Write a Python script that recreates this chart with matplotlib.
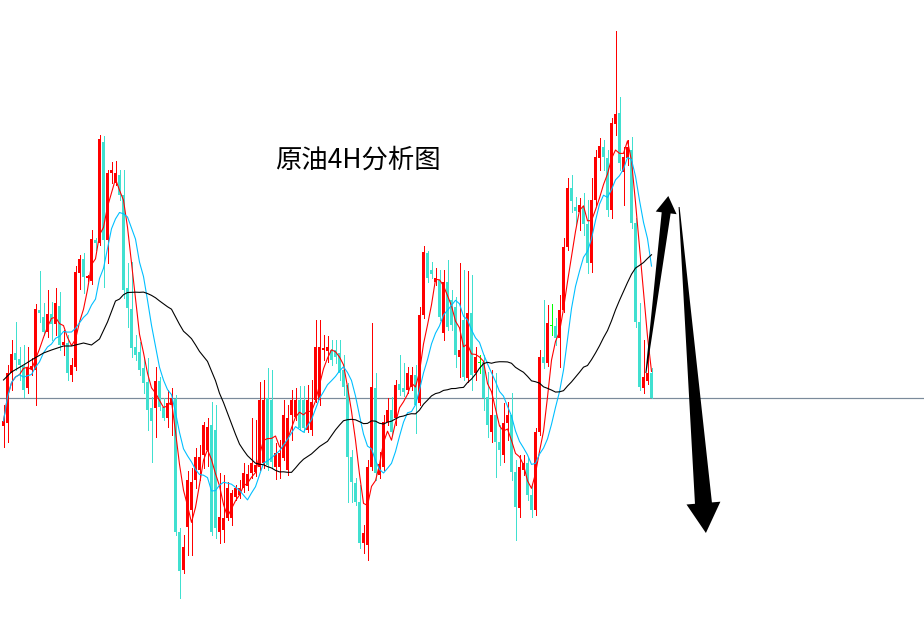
import numpy as np
import pandas as pd
import matplotlib.pyplot as plt
from matplotlib.patches import Polygon

# crude oil 4H bars, oldest first (price in points)
# -------------------------------------------------------------------------------------
opens = [574, 577, 627, 647, 641, 634, 612, 631, 630, 690,
         683, 668, 686, 676, 694, 655, 657, 625, 633, 727,
         741, 722, 719, 760, 757, 858, 760, 827, 817, 825,
         805, 712, 691, 653, 648, 632, 618, 592, 592, 619,
         593, 582, 595, 601, 468, 430, 473, 490, 520, 530,
         545, 550, 575, 570, 468, 470, 482, 482, 503, 505,
         512, 514, 527, 528, 533, 537, 602, 600, 533, 533,
         542, 530, 585, 583, 600, 600, 570, 570, 600, 600,
         650, 649, 650, 650, 647, 630, 615, 543, 517, 498,
         457, 455, 533, 612, 525, 533, 578, 590, 582, 616,
         612, 610, 613, 625, 597, 685, 747, 730, 718, 720,
         667, 718, 700, 693, 643, 680, 622, 687, 627, 637,
         638, 603, 568, 585, 558, 545, 577, 585, 528, 492,
         530, 537, 505, 490, 568, 643, 637, 674, 674, 662,
         690, 753, 812, 793, 788, 793, 776, 737, 800, 842,
         853, 842, 790, 876, 887, 828, 842, 850, 777, 678,
         612, 619, 627]

closes = [579, 627, 646, 640, 635, 610, 633, 634, 691, 687,
          668, 686, 676, 697, 655, 658, 627, 635, 728, 741,
          723, 724, 761, 757, 861, 760, 827, 830, 827, 805,
          710, 692, 652, 645, 630, 617, 590, 579, 619, 593,
          582, 597, 602, 468, 429, 453, 520, 518, 543, 543,
          575, 573, 468, 472, 483, 482, 512, 507, 512, 512,
          527, 526, 537, 535, 600, 600, 535, 538, 547, 547,
          585, 582, 600, 600, 572, 572, 600, 598, 653, 653,
          652, 653, 640, 643, 627, 613, 543, 518, 498, 457,
          467, 533, 613, 527, 536, 578, 590, 568, 615, 610,
          608, 627, 625, 595, 685, 748, 722, 726, 722, 683,
          718, 673, 675, 645, 650, 623, 687, 625, 643, 637,
          602, 575, 585, 558, 550, 577, 585, 528, 493, 533,
          537, 505, 490, 568, 643, 637, 677, 674, 662, 690,
          753, 812, 799, 789, 795, 776, 737, 800, 843, 854,
          843, 790, 877, 886, 837, 843, 853, 777, 678, 613,
          623, 627, 602]

highs = [595, 635, 660, 678, 653, 655, 653, 642, 696, 729,
         697, 710, 698, 712, 708, 670, 665, 642, 734, 745,
         747, 725, 770, 762, 865, 864, 830, 838, 839, 830,
         830, 737, 738, 665, 658, 643, 642, 603, 633, 623,
         602, 610, 612, 605, 472, 465, 529, 532, 552, 555,
         578, 582, 598, 595, 527, 525, 518, 510, 515, 520,
         537, 535, 582, 580, 618, 620, 632, 630, 557, 560,
         600, 595, 610, 612, 614, 614, 615, 620, 680, 680,
         665, 664, 660, 660, 660, 645, 617, 550, 522, 515,
         475, 540, 677, 627, 548, 585, 602, 603, 620, 645,
         637, 633, 633, 635, 693, 754, 749, 738, 732, 730,
         730, 740, 710, 703, 737, 730, 729, 725, 653, 645,
         645, 628, 630, 627, 575, 597, 598, 607, 540, 545,
         545, 542, 515, 572, 650, 700, 695, 696, 682, 705,
         762, 822, 825, 803, 802, 807, 800, 822, 850, 862,
         860, 850, 882, 969, 903, 853, 860, 863, 782, 697,
         660, 655, 632]

lows = [553, 558, 610, 630, 620, 603, 607, 625, 595, 678,
        665, 663, 660, 665, 650, 645, 620, 619, 630, 711,
        707, 719, 716, 750, 755, 713, 737, 817, 815, 800,
        702, 673, 643, 640, 625, 607, 570, 538, 563, 590,
        580, 573, 565, 465, 402, 427, 445, 445, 512, 520,
        532, 534, 465, 462, 457, 458, 480, 475, 500, 502,
        508, 510, 522, 524, 530, 532, 530, 532, 521, 522,
        540, 525, 560, 580, 570, 568, 568, 565, 598, 595,
        640, 638, 635, 637, 620, 605, 498, 498, 495, 452,
        447, 440, 530, 520, 522, 530, 575, 565, 575, 605,
        604, 607, 610, 567, 595, 682, 718, 722, 715, 680,
        660, 670, 670, 633, 623, 620, 618, 610, 620, 627,
        590, 563, 558, 523, 535, 538, 560, 520, 460, 483,
        525, 500, 483, 485, 565, 632, 634, 665, 655, 633,
        688, 750, 788, 775, 770, 765, 727, 728, 795, 830,
        830, 784, 782, 865, 830, 795, 835, 772, 673, 610,
        607, 616, 602]

# MA30 before 30 bars exist
ma30_head_idx = [0, 2, 5, 7, 10, 12, 15, 17, 20, 22, 24, 26, 28]
ma30_head = [620, 628, 635, 640, 647, 650, 654, 654, 657, 655, 661, 678, 699]

support = 602
title = "原油4H分析图"

# colours
# -------------------------------------------------------------------------------------
UP = "#FF0000"
DOWN = "#40E0D0"
DOJI = "#00FF00"
PX = 72 / 100      # one pixel in points at dpi 100

o = np.array(opens, float)
c = np.array(closes, float)
h = np.array(highs, float)
l = np.array(lows, float)
idx = np.arange(len(o))

cols = np.where(c > o, UP, np.where(c < o, DOWN, DOJI))

ma5 = pd.Series(c).rolling(5, min_periods=1).mean()
ma10 = pd.Series(c).rolling(10, min_periods=1).mean()
ma30 = pd.Series(c).rolling(30).mean()
ma30_x = np.concatenate([ma30_head_idx, idx[29:]])
ma30_y = np.concatenate([ma30_head, ma30.values[29:]])

# figure
# -------------------------------------------------------------------------------------
fig = plt.figure(figsize=(9.24, 6.19), dpi=100)
ax = fig.add_axes([0, 0, 1, 1])
ax.set_xlim(-0.875, -0.875 + 231)
ax.set_ylim(381, 1000)
ax.axis("off")

ax.axhline(support, color="#7B8B9B", lw=PX * 1.2, zorder=1)

ax.vlines(idx, l, h, colors=cols, lw=PX, antialiased=False, zorder=2)
body_lo = np.minimum(o, c)
body_h = np.maximum(np.abs(c - o), 1)
ax.bar(idx, body_h, width=0.85, bottom=body_lo, color=cols,
       linewidth=0, antialiased=False, zorder=3)

ax.plot(idx, ma5, color=UP, lw=PX * 1.1, zorder=4)
ax.plot(idx, ma10, color="#00BFFF", lw=PX * 1.1, zorder=4)
ax.plot(ma30_x, ma30_y, color="black", lw=PX * 1.1, zorder=4)


def tapered_arrow(tail, tip, w_tail, w_shaft, w_head, head_len):
    # widths in pixels, built in display space then mapped back to data
    p0 = ax.transData.transform(tail)
    p1 = ax.transData.transform(tip)
    u = (p1 - p0) / np.hypot(*(p1 - p0))
    n = np.array([-u[1], u[0]])
    base = p1 - u * head_len
    pts = [p0 + n * w_tail / 2, base + n * w_shaft / 2, base + n * w_head / 2, p1,
           base - n * w_head / 2, base - n * w_shaft / 2, p0 - n * w_tail / 2]
    pts = ax.transData.inverted().transform(np.array(pts))
    ax.add_patch(Polygon(pts, closed=True, color="black", lw=0, zorder=5))


tapered_arrow((160.6, 627), (166.2, 804), 1, 9, 21, 17)
tapered_arrow((168.9, 793), (175.6, 467), 1, 17, 34, 30)

ax.text(0.387, 0.742, title, transform=ax.transAxes, ha="center", va="center",
        fontsize=19, color="black", family=["Noto Sans CJK SC", "DejaVu Sans"])

fig.savefig("out.png", dpi=100, facecolor="white")
